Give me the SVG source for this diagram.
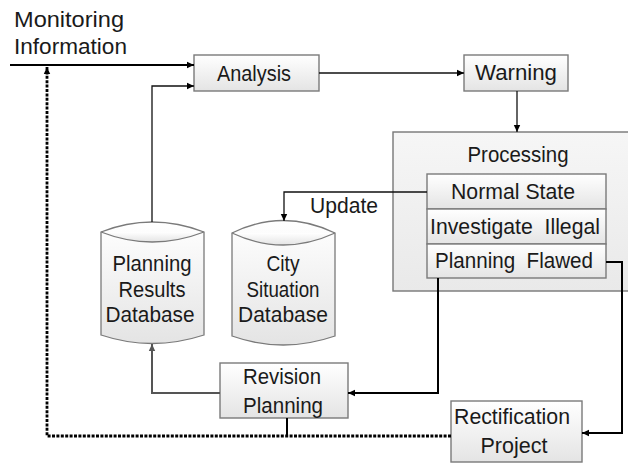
<svg xmlns="http://www.w3.org/2000/svg" width="628" height="464" viewBox="0 0 628 464">
  <style>
    text { font-family: "Liberation Sans", Arial, sans-serif; font-size: 22px; fill: #1a1a1a; }
    .c { text-anchor: middle; }
    .box { fill: url(#boxFill); stroke: #7a7a7a; stroke-width: 1.4; }
    .db { fill: url(#boxFill); stroke: #7a7a7a; stroke-width: 1.3; }
    .ln { fill: none; stroke: #000; stroke-width: 2; }
    .thin { fill: none; stroke: #111; stroke-width: 1.3; }
    .grey { fill: none; stroke: #555; stroke-width: 2; }
    .dot { fill: none; stroke: #000; stroke-width: 2.8; stroke-dasharray: 3 1.4; }
  </style>
  <defs>
    <linearGradient id="boxFill" x1="0" y1="0" x2="0" y2="1">
      <stop offset="0" stop-color="#ffffff"/>
      <stop offset="1" stop-color="#e4e4e4"/>
    </linearGradient>
    <linearGradient id="procFill" x1="0" y1="0" x2="0" y2="1">
      <stop offset="0" stop-color="#f6f6f6"/>
      <stop offset="1" stop-color="#e9e9e9"/>
    </linearGradient>
    <marker id="arr" markerUnits="userSpaceOnUse" markerWidth="8" markerHeight="8" refX="7" refY="4" orient="auto">
      <path d="M0,0.8 L7,4 L0,7.2 Z" fill="#000"/>
    </marker>
    <marker id="arrG" markerUnits="userSpaceOnUse" markerWidth="8" markerHeight="8" refX="7" refY="4" orient="auto">
      <path d="M0,0.8 L7,4 L0,7.2 Z" fill="#555"/>
    </marker>
  </defs>

  <!-- free label -->
  <text x="14" y="27" textLength="110" lengthAdjust="spacingAndGlyphs">Monitoring</text>
  <text x="14" y="54" textLength="113" lengthAdjust="spacingAndGlyphs">Information</text>

  <g id="analysis">
    <rect class="box" x="194" y="55" width="125" height="36"/>
    <text class="c" x="254" y="81" textLength="74" lengthAdjust="spacingAndGlyphs">Analysis</text>
  </g>

  <g id="warning">
    <rect class="box" x="464" y="55" width="104" height="36"/>
    <text class="c" x="516" y="80" textLength="82" lengthAdjust="spacingAndGlyphs">Warning</text>
  </g>

  <g id="processing">
    <rect x="393" y="132" width="240" height="159" fill="url(#procFill)" stroke="#777" stroke-width="1.4"/>
    <text class="c" x="518" y="162" textLength="101" lengthAdjust="spacingAndGlyphs">Processing</text>
    <g id="normal-state">
      <rect class="box" x="427" y="174" width="179" height="35"/>
      <text class="c" x="513" y="199" textLength="124" lengthAdjust="spacingAndGlyphs">Normal State</text>
    </g>
    <g id="investigate-illegal">
      <rect class="box" x="427" y="209" width="179" height="35"/>
      <text class="c" x="515" y="234" textLength="170" lengthAdjust="spacingAndGlyphs" xml:space="preserve">Investigate  Illegal</text>
    </g>
    <g id="planning-flawed">
      <rect class="box" x="427" y="244" width="179" height="34"/>
      <text class="c" x="514" y="268" textLength="158" lengthAdjust="spacingAndGlyphs" xml:space="preserve">Planning  Flawed</text>
    </g>
  </g>

  <g id="planning-results-db">
    <path class="db" d="M101,232 Q152,212 204,232 L204,335 Q152,352 101,335 Z"/>
    <path class="db" fill="none" d="M101,232 Q152,252 204,232"/>
    <text class="c" x="152" y="271" textLength="79" lengthAdjust="spacingAndGlyphs">Planning</text>
    <text class="c" x="152" y="297" textLength="67" lengthAdjust="spacingAndGlyphs">Results</text>
    <text class="c" x="150" y="322" textLength="89" lengthAdjust="spacingAndGlyphs">Database</text>
  </g>

  <g id="city-situation-db">
    <path class="db" d="M232,233 Q283,208 335,233 L335,336 Q283,354 232,336 Z"/>
    <path class="db" fill="none" d="M232,233 Q283,257 335,233"/>
    <text class="c" x="283" y="271" textLength="33" lengthAdjust="spacingAndGlyphs">City</text>
    <text class="c" x="283" y="297" textLength="73" lengthAdjust="spacingAndGlyphs">Situation</text>
    <text class="c" x="283" y="322" textLength="90" lengthAdjust="spacingAndGlyphs">Database</text>
  </g>

  <g id="revision-planning">
    <rect class="box" x="220" y="363" width="128" height="55"/>
    <text class="c" x="282" y="384" textLength="78" lengthAdjust="spacingAndGlyphs">Revision</text>
    <text class="c" x="283" y="413" textLength="80" lengthAdjust="spacingAndGlyphs">Planning</text>
  </g>

  <g id="rectification-project">
    <rect class="box" x="451" y="401" width="131" height="61"/>
    <text class="c" x="512" y="424" textLength="116" lengthAdjust="spacingAndGlyphs">Rectification</text>
    <text class="c" x="514" y="453" textLength="67" lengthAdjust="spacingAndGlyphs">Project</text>
  </g>

  <g id="connectors">
    <!-- monitoring input -->
    <path class="ln" d="M10,65 H194" marker-end="url(#arr)"/>
    <!-- planning results back into analysis -->
    <path class="thin" d="M152,222 V86 H194" marker-end="url(#arr)"/>
    <!-- analysis to warning -->
    <path class="thin" d="M319,73 H464" marker-end="url(#arr)"/>
    <!-- warning to processing -->
    <path class="thin" d="M517,91 V132" marker-end="url(#arr)"/>
    <!-- normal state: update city situation -->
    <path class="thin" d="M427,192 H284 V221" marker-end="url(#arr)"/>
    <text x="310" y="213" textLength="68" lengthAdjust="spacingAndGlyphs">Update</text>
    <!-- planning flawed to rectification -->
    <path class="ln" d="M606,262 H622 V433 H582" marker-end="url(#arr)"/>
    <!-- planning flawed to revision -->
    <path class="ln" d="M438,278 V393 H348" marker-end="url(#arr)"/>
    <!-- revision to planning results -->
    <path class="grey" d="M220,393 H152 V344" marker-end="url(#arrG)"/>
    <!-- revision joins feedback -->
    <path class="ln" d="M287,418 V436"/>
    <!-- feedback loop -->
    <path class="dot" d="M451,436 H47 V67" marker-end="url(#arr)"/>
  </g>
</svg>
